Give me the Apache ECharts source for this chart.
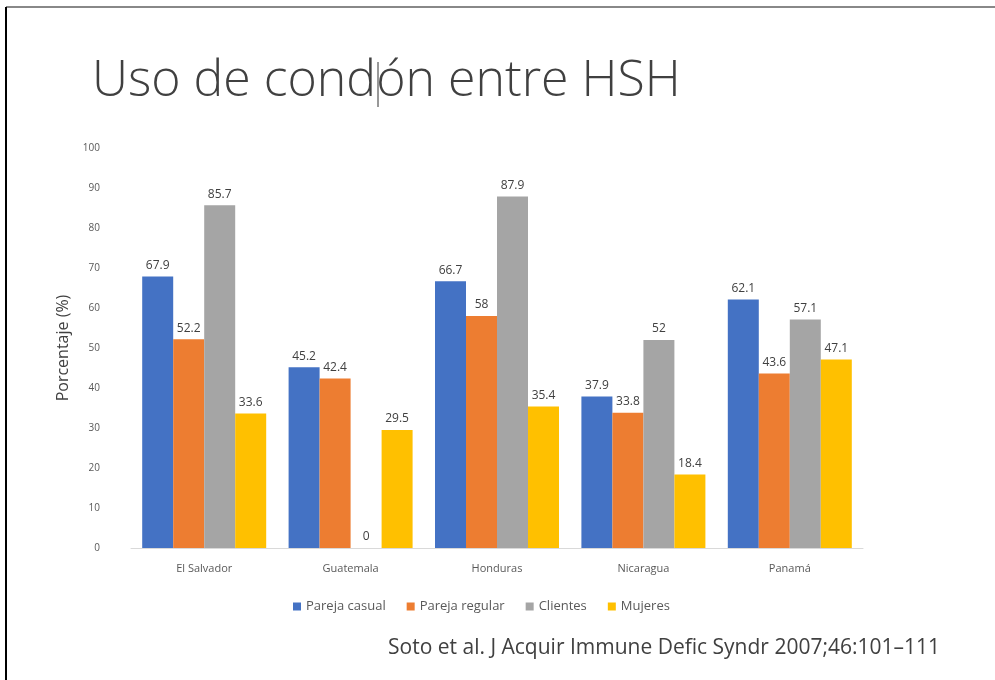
<!DOCTYPE html>
<html>
<head>
<meta charset="utf-8">
<script src="https://cdn.jsdelivr.net/npm/echarts@6/dist/echarts.min.js"></script>
<style>
  html, body { margin: 0; padding: 0; background: #fff; }
  #chart { width: 995px; height: 680px; }
</style>
</head>
<body>
<div id="chart"></div>
<script>
// datos
const countries = ['El Salvador', 'Guatemala', 'Honduras', 'Nicaragua', 'Panamá'];
const parejaCasual = [67.9, 45.2, 66.7, 37.9, 62.1];
const parejaRegular = [52.2, 42.4, 58, 33.8, 43.6];
const clientes = [85.7, 0, 87.9, 52, 57.1];
const mujeres = [33.6, 29.5, 35.4, 18.4, 47.1];
const seriesNames = ['Pareja casual', 'Pareja regular', 'Clientes', 'Mujeres'];
const colors = ['#4472C4', '#ED7D31', '#A5A5A5', '#FFC000'];

const titleText = 'Uso de condón entre HSH';
const titleFont = '300 50px "Open Sans"';
const titleLeft = 92;

// posición del cursor de texto: justo después de "cond"
const ctx = document.createElement('canvas').getContext('2d');
ctx.font = titleFont;
const cursorX = Math.round(titleLeft + ctx.measureText('Uso de cond').width) + 2;

const chart = echarts.init(document.getElementById('chart'));

const labelStyle = { show: true, position: 'top', distance: 5, color: '#404040', fontSize: 12, fontFamily: 'Open Sans' };

chart.setOption({
  animation: false,
  color: colors,
  textStyle: { fontFamily: 'Open Sans' },
  grid: { left: 131, right: 132, top: 148, bottom: 132 },
  legend: {
    data: seriesNames,
    left: 288, top: 595,
    itemWidth: 8, itemHeight: 8, itemGap: 21,
    icon: 'rect',
    textStyle: { color: '#595959', fontSize: 13 }
  },
  xAxis: {
    type: 'category',
    data: countries,
    axisLine: { show: true, lineStyle: { color: '#d9d9d9' } },
    axisTick: { show: false },
    axisLabel: { color: '#595959', fontSize: 11, margin: 15 }
  },
  yAxis: {
    type: 'value',
    min: 0, max: 100, interval: 10,
    name: 'Porcentaje (%)',
    nameLocation: 'middle',
    nameGap: 60,
    nameRotate: 90,
    nameTextStyle: { color: '#404040', fontSize: 16 },
    axisLine: { show: false },
    axisTick: { show: false },
    splitLine: { show: false },
    axisLabel: { color: '#595959', fontSize: 10, margin: 31 }
  },
  series: [
    { name: seriesNames[0], type: 'bar', data: parejaCasual, barWidth: 31, barGap: '0%', label: labelStyle },
    { name: seriesNames[1], type: 'bar', data: parejaRegular, barWidth: 31, barGap: '0%', label: labelStyle },
    { name: seriesNames[2], type: 'bar', data: clientes, barWidth: 31, barGap: '0%', label: labelStyle },
    { name: seriesNames[3], type: 'bar', data: mujeres, barWidth: 31, barGap: '0%', label: labelStyle }
  ],
  graphic: [
    // marco de la diapositiva
    { type: 'line', shape: { x1: 6, y1: 7, x2: 995, y2: 7 }, style: { stroke: '#888', lineWidth: 2 } },
    { type: 'line', shape: { x1: 6, y1: 7, x2: 6, y2: 680 }, style: { stroke: '#000', lineWidth: 2 } },
    {
      type: 'text', left: titleLeft, top: 57,
      style: { text: titleText, fill: '#404040', font: titleFont }
    },
    // cursor de texto
    { type: 'line', shape: { x1: cursorX, y1: 62, x2: cursorX, y2: 107 }, style: { stroke: '#333', lineWidth: 1 } },
    {
      type: 'text', right: 55, top: 638,
      style: { text: 'Soto et al. J Acquir Immune Defic Syndr 2007;46:101\u2013111', fill: '#404040', font: '21px "Open Sans"' }
    }
  ]
});
</script>
</body>
</html>
